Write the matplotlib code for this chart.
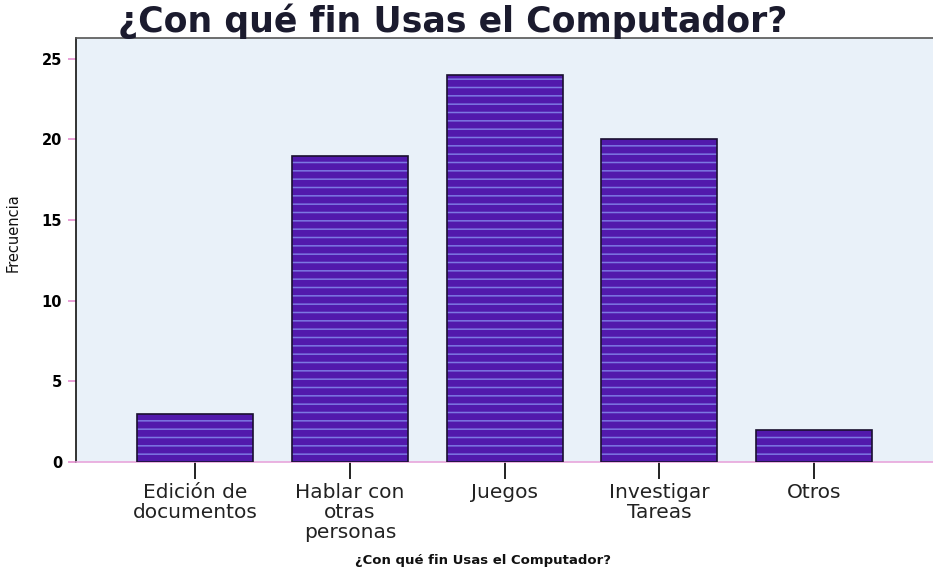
import matplotlib
matplotlib.use("Agg")
import matplotlib.pyplot as plt

categories = ["Edición de\ndocumentos", "Hablar con\notras\npersonas", "Juegos",
              "Investigar\nTareas", "Otros"]
frecuencia = [3, 19, 24, 20, 2]
y_ticks = [0, 5, 10, 15, 20, 25]

plt.rcParams["font.family"] = ["DejaVu Sans"]
plt.rcParams["hatch.linewidth"] = 1.1

fig = plt.figure(figsize=(9.33, 5.67), dpi=100)
fig.patch.set_facecolor("white")
ax = fig.add_axes([0.0815, 0.1852, 0.927, 0.748])
ax.set_facecolor("#e9f1f9")

x = list(range(len(categories)))
# striped fill (hatch takes the edge colour), then a dark outline on top
ax.bar(x, frecuencia, width=0.75, color="#5219ac", edgecolor="#7c78e2",
       linewidth=0, hatch="--", zorder=3)
ax.bar(x, frecuencia, width=0.75, fill=False, edgecolor="#1a1030",
       linewidth=1.2, zorder=4)

ax.set_xlim(-0.77, 4.82)
ax.set_ylim(0, 26.3)
ax.set_yticks(y_ticks)
ax.set_yticklabels([str(v) for v in y_ticks], fontweight="bold", fontsize=10.5)
ax.tick_params(axis="y", length=6, width=1.2, color="#e58fd0", pad=4)
ax.set_xticks(x)
ax.set_xticklabels(categories, fontsize=14.5, color="#222222", linespacing=1.08)
ax.tick_params(axis="x", length=12, width=1.4, color="#222222", pad=3, direction="out")

for side in ["left", "top", "bottom", "right"]:
    ax.spines[side].set_linewidth(1.2)
ax.spines["left"].set_color("#111111")
ax.spines["top"].set_color("#555555")
ax.spines["bottom"].set_color("#e8a6dc")
ax.spines["right"].set_visible(False)

ax.set_ylabel("Frecuencia", fontsize=10.5, color="#111111")
ax.yaxis.set_label_coords(-0.064, 0.54)
ax.set_xlabel("¿Con qué fin Usas el Computador?", fontsize=9.5, fontweight="bold",
              color="#111111")
ax.xaxis.set_label_coords(0.47, -0.218)
fig.text(0.126, 0.962, "¿Con qué fin Usas el Computador?", fontsize=25,
         fontweight="bold", color="#1b1b2e", ha="left", va="center")

fig.savefig("out.png", dpi=100)
